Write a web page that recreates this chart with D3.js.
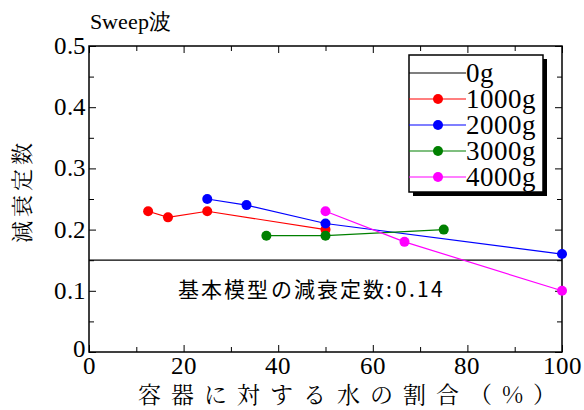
<!DOCTYPE html>
<html><head><meta charset="utf-8">
<script src="https://cdn.jsdelivr.net/npm/d3@7"></script>
<style>
@font-face{font-family:"RefSerif";src:local("Liberation Serif"),local("LiberationSerif"),local("Liberation Serif Regular"),local("LiberationSerif-Regular");}
@font-face{font-family:"RefMincho";src:local("Noto Serif CJK JP"),local("NotoSerifCJKjp-Regular"),local("Noto Serif CJK JP Regular");}
@font-face{font-family:"RefGothic";src:local("Noto Sans CJK JP"),local("NotoSansCJKjp-Regular"),local("Noto Sans CJK JP Regular");}
body{margin:0;background:#fff}
</style>
</head><body>
<svg id="c" width="584" height="410"></svg>
<script>
const series = ["1000g","2000g","3000g","4000g"];
const colors = ["#ff0000","#0000ff","#008000","#ff00ff"];
const x1000 = [12.5,16.7,25,50], y1000 = [0.23,0.22,0.23,0.20];
const x2000 = [25,33.3,50,100], y2000 = [0.25,0.24,0.21,0.16];
const x3000 = [37.5,50,75], y3000 = [0.19,0.19,0.20];
const x4000 = [50,66.7,100], y4000 = [0.23,0.18,0.10];
const baseline0g = 0.15;
const xTicks = [0,20,40,60,80,100];
const yTicks = [0,0.1,0.2,0.3,0.4,0.5];
const yTickLabels = ["0","0.1","0.2","0.3","0.4","0.5"];

const svg = d3.select("#c");
const L=89,R=562,T=46,B=352;
const x = d3.scaleLinear().domain([0,100]).range([L,R]);
const y = d3.scaleLinear().domain([0,0.5]).range([B,T]);

function txt(fam, real, size){
  return svg.append("text").style("font-family",'"'+fam+'", "'+real+'"').style("font-size",size+"px");
}

const tickLen=7, minorLen=5;
svg.append("rect").attr("x",L).attr("y",T).attr("width",R-L).attr("height",B-T)
  .attr("fill","none").attr("stroke","#000").attr("stroke-width",1.5);
const xMinor = d3.range(0,101,10);
[["bottom",B,d3.axisTop],["top",T,d3.axisBottom]].forEach(([nm,pos,ax])=>{
  const g = svg.append("g").attr("transform",`translate(0,${pos})`)
    .call(ax(x).tickValues(xMinor).tickSize(tickLen).tickFormat(""));
  g.attr("font-family",null).attr("font-size",null);
  g.select(".domain").remove();
  g.selectAll(".tick text").remove();
  g.selectAll(".tick line").attr("y2",(d)=> (d%20===0?tickLen:minorLen)*(nm==="bottom"?-1:1));
});
const yMinor = d3.range(0,0.501,0.05);
[["left",L,d3.axisRight],["right",R,d3.axisLeft]].forEach(([nm,pos,ax])=>{
  const g = svg.append("g").attr("transform",`translate(${pos},0)`)
    .call(ax(y).tickValues(yMinor).tickSize(tickLen).tickFormat(""));
  g.attr("font-family",null).attr("font-size",null);
  g.select(".domain").remove();
  g.selectAll(".tick text").remove();
  g.selectAll(".tick line").attr("x2",(d)=>{
    const major = Math.abs(Math.round(d*10)-d*10)<1e-6;
    return (major?tickLen:minorLen)*(nm==="left"?1:-1);
  });
});

xTicks.forEach(v=>{
  txt("RefSerif","Liberation Serif",25).attr("x",x(v)).attr("y",B+22).attr("text-anchor","middle").text(v);
});
yTicks.forEach((v,i)=>{
  txt("RefSerif","Liberation Serif",25).attr("x",L-3).attr("y",y(v)+(i===0?5:8)).attr("text-anchor","end").text(yTickLabels[i]);
});

svg.append("line").attr("x1",x(0)).attr("x2",x(100)).attr("y1",y(baseline0g)).attr("y2",y(baseline0g))
  .attr("stroke","#000").attr("stroke-width",1.3);

const data = [[x1000,y1000],[x2000,y2000],[x3000,y3000],[x4000,y4000]];
const line = d3.line().x(d=>x(d[0])).y(d=>y(d[1]));
data.forEach(([xs,ys],i)=>{
  const pts = xs.map((v,j)=>[v,ys[j]]);
  svg.append("path").datum(pts).attr("d",line).attr("fill","none").attr("stroke",colors[i]).attr("stroke-width",1.2);
});
data.forEach(([xs,ys],i)=>{
  const pts = xs.map((v,j)=>[v,ys[j]]);
  svg.selectAll(null).data(pts).enter().append("circle").attr("cx",d=>x(d[0])).attr("cy",d=>y(d[1]))
    .attr("r",5).attr("fill",colors[i]);
});

txt("RefGothic","Noto Sans CJK JP",21).attr("x",178).attr("y",297)
  .attr("textLength",265).attr("lengthAdjust","spacing").text("基本模型の減衰定数:0.14");

const lx=409, ly=55, lw=134, lh=137;
svg.append("rect").attr("x",lx+4).attr("y",ly+4).attr("width",lw).attr("height",lh).attr("fill","#000");
svg.append("rect").attr("x",lx).attr("y",ly).attr("width",lw).attr("height",lh).attr("fill","#fff").attr("stroke","#000").attr("stroke-width",1.5);
const legNames = ["0g"].concat(series);
const legColors = ["#000"].concat(colors);
legNames.forEach((n,i)=>{
  const yy = 73 + i*26;
  svg.append("line").attr("x1",lx).attr("x2",lx+57).attr("y1",yy).attr("y2",yy).attr("stroke",legColors[i]).attr("stroke-width",1.2);
  if(i>0) svg.append("circle").attr("cx",lx+29).attr("cy",yy).attr("r",5).attr("fill",legColors[i]);
  txt("RefSerif","Liberation Serif",27).attr("x",lx+57).attr("y",yy+9).text(n);
});

txt("RefSerif","Liberation Serif",22).attr("x",90).attr("y",29).text("Sweep波");
txt("RefMincho","Noto Serif CJK JP",22).attr("transform",`translate(30,143) rotate(-90)`).attr("x",-100)
  .attr("textLength",100).attr("lengthAdjust","spacing").text("減衰定数");
txt("RefMincho","Noto Serif CJK JP",23).attr("x",138).attr("y",403)
  .attr("textLength",418).attr("lengthAdjust","spacing").text("容器に対する水の割合（%）");
</script>
</body></html>
